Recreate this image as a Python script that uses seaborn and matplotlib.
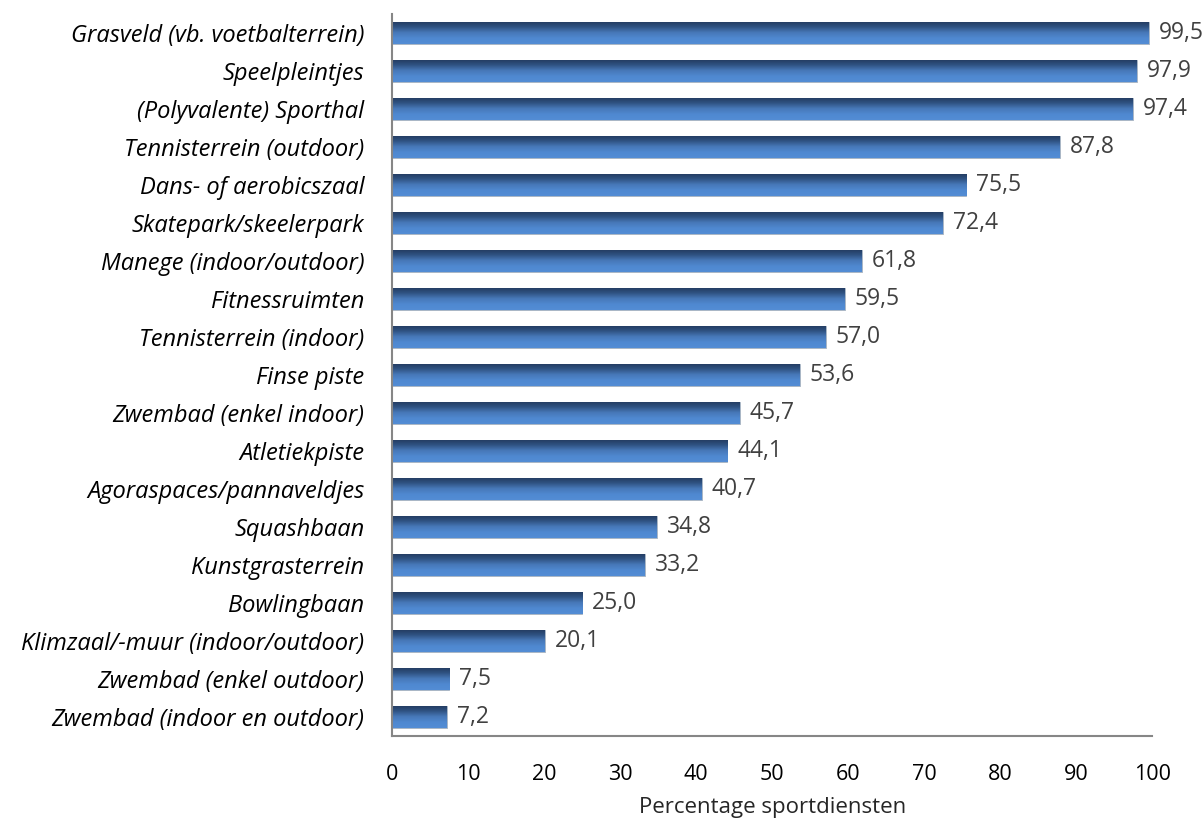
import matplotlib
matplotlib.use('Agg')
import matplotlib.pyplot as plt
import seaborn as sns
import numpy as np
import pandas as pd
from matplotlib.colors import LinearSegmentedColormap

categories = ['Grasveld (vb. voetbalterrein)', 'Speelpleintjes', '(Polyvalente) Sporthal',
              'Tennisterrein (outdoor)', 'Dans- of aerobicszaal', 'Skatepark/skeelerpark',
              'Manege (indoor/outdoor)', 'Fitnessruimten', 'Tennisterrein (indoor)',
              'Finse piste', 'Zwembad (enkel indoor)', 'Atletiekpiste',
              'Agoraspaces/pannaveldjes', 'Squashbaan', 'Kunstgrasterrein', 'Bowlingbaan',
              'Klimzaal/-muur (indoor/outdoor)', 'Zwembad (enkel outdoor)',
              'Zwembad (indoor en outdoor)']
values = [99.5, 97.9, 97.4, 87.8, 75.5, 72.4, 61.8, 59.5, 57.0, 53.6, 45.7, 44.1,
          40.7, 34.8, 33.2, 25.0, 20.1, 7.5, 7.2]
x_ticks = [0, 10, 20, 30, 40, 50, 60, 70, 80, 90, 100]

df = pd.DataFrame({'cat': categories, 'val': values})

sns.set_style('white')
plt.rcParams['font.family'] = ['Open Sans', 'DejaVu Sans']

fig = plt.figure(figsize=(12.03, 8.25), dpi=100)
ax = fig.add_axes([0.326, 0.108, 0.632, 0.875])

sns.barplot(data=df, x='val', y='cat', color='#4a7ebf', width=0.58, ax=ax,
            orient='h', saturation=1)

# vertical gradient on each bar, like the Excel style
cmap = LinearSegmentedColormap.from_list('bar', ['#223a5e', '#2f5282', '#4778b8', '#4f88d0', '#538dd5'])
grad = np.linspace(0, 1, 64).reshape(-1, 1)
for p in ax.patches:
    x0, y0 = p.get_x(), p.get_y()
    w, h = p.get_width(), p.get_height()
    p.set_facecolor('none')
    p.set_edgecolor('#9aa9bb')
    p.set_linewidth(0.6)
    im = ax.imshow(grad, cmap=cmap, aspect='auto', extent=[x0, x0 + w, y0 + h, y0],
                   origin='upper', zorder=2)
    im.set_clip_path(p)

for p, v in zip(ax.patches, values):
    ax.text(p.get_x() + p.get_width() + 1.3, p.get_y() + p.get_height() / 2,
            f'{v:.1f}'.replace('.', ','), va='center', ha='left',
            fontsize=16.5, color='#404040', zorder=3)

ax.set_xlim(0, 100)
ax.set_ylim(len(categories) - 0.5, -0.5)
ax.set_xticks(x_ticks)
ax.set_xticklabels([str(t) for t in x_ticks], fontsize=15.5, color='#000000')
ax.set_yticks(range(len(categories)))
ax.set_yticklabels(categories, fontsize=17, style='italic', color='#000000')
ax.set_yticks(np.arange(-0.5, len(categories), 1), minor=True)
ax.tick_params(axis='y', which='major', length=0, pad=20)
ax.tick_params(axis='y', which='minor', length=6, color='#868686', width=1.5, direction='out')
ax.tick_params(axis='x', length=6, color='#868686', width=1.5, direction='out', pad=14)
ax.set_ylabel('')
ax.set_xlabel('Percentage sportdiensten', fontsize=16, labelpad=9)

for s in ['top', 'right']:
    ax.spines[s].set_visible(False)
for s in ['left', 'bottom']:
    ax.spines[s].set_color('#868686')
    ax.spines[s].set_linewidth(1.5)

fig.savefig('out.png', dpi=100)
